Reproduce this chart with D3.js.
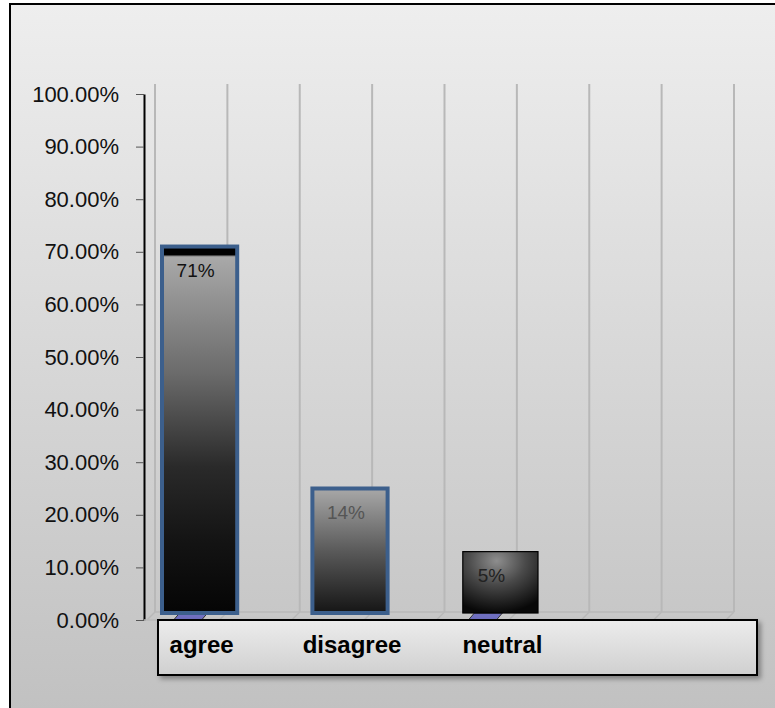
<!DOCTYPE html>
<html lang="en">
<head>
    <meta charset="UTF-8">
    <title>Agree / disagree chart</title>
    <script src="https://d3js.org/d3.v7.min.js"></script>
    <style>
        body { margin: 0; background: #fff; }
        text { font-family: "Liberation Sans", Arial, sans-serif; }
    </style>
</head>
<body>
<script>
    // values
    const categories = ["agree", "disagree", "neutral"];
    const values = [0.71, 0.25, 0.13];          // bar heights against the axis
    const valueLabels = ["71%", "14%", "5%"];   // labels printed on the bars
    const yTicks = [0, 0.1, 0.2, 0.3, 0.4, 0.5, 0.6, 0.7, 0.8, 0.9, 1];

    const W = 775, H = 708;

    const svg = d3.select("body").append("svg")
        .attr("width", W)
        .attr("height", H);

    const defs = svg.append("defs");

    // background of the whole chart
    const bg = defs.append("linearGradient").attr("id", "bg")
        .attr("x1", 0).attr("y1", 0).attr("x2", 0).attr("y2", 1);
    bg.append("stop").attr("offset", "0%").attr("stop-color", "#eeeeee");
    bg.append("stop").attr("offset", "100%").attr("stop-color", "#bfbfbf");

    // category axis box
    const box = defs.append("linearGradient").attr("id", "box")
        .attr("x1", 0).attr("y1", 0).attr("x2", 0).attr("y2", 1);
    box.append("stop").attr("offset", "0%").attr("stop-color", "#ececec");
    box.append("stop").attr("offset", "100%").attr("stop-color", "#d0d0d0");

    // bar fills
    const g0 = defs.append("linearGradient").attr("id", "bar0")
        .attr("x1", 0).attr("y1", 0).attr("x2", 0).attr("y2", 1);
    [["0%", "#000"], ["2.2%", "#000"], ["2.8%", "#a9a9a9"], ["35%", "#6a6a6a"],
        ["60%", "#2a2a2a"], ["80%", "#141414"], ["100%", "#050505"]]
        .forEach(s => g0.append("stop").attr("offset", s[0]).attr("stop-color", s[1]));

    const g1 = defs.append("linearGradient").attr("id", "bar1")
        .attr("x1", 0).attr("y1", 0).attr("x2", 0).attr("y2", 1);
    [["0%", "#a8a8a8"], ["50%", "#5a5a5a"], ["100%", "#151515"]]
        .forEach(s => g1.append("stop").attr("offset", s[0]).attr("stop-color", s[1]));

    const g2 = defs.append("radialGradient").attr("id", "bar2")
        .attr("cx", "45%").attr("cy", "15%").attr("r", "85%");
    [["0%", "#8e8e8e"], ["45%", "#4a4a4a"], ["100%", "#080808"]]
        .forEach(s => g2.append("stop").attr("offset", s[0]).attr("stop-color", s[1]));

    const shadow = defs.append("filter").attr("id", "shadow")
        .attr("x", "-5%").attr("y", "-10%").attr("width", "115%").attr("height", "140%");
    shadow.append("feDropShadow").attr("dx", 3).attr("dy", 3)
        .attr("stdDeviation", 2.5).attr("flood-color", "#000").attr("flood-opacity", 0.35);

    // chart frame
    svg.append("rect")
        .attr("x", 10).attr("y", 4)
        .attr("width", 800).attr("height", 740)
        .attr("fill", "url(#bg)")
        .attr("stroke", "#000")
        .attr("stroke-width", 2);

    // scales
    const y = d3.scaleLinear().domain([0, 1]).range([620, 94]);
    const x = d3.scaleBand().domain(categories)
        .range([162, 538])
        .paddingInner(0.5)
        .paddingOuter(0);

    // back wall lines (3d style)
    const wall = d3.scaleLinear().domain([0, 8]).range([155, 734]);
    const wallIdx = d3.range(9);
    const floorBack = y(0) - 8, floorFront = y(0), depth = 8;

    svg.append("g").selectAll("line")
        .data(wallIdx)
        .enter()
        .append("line")
        .attr("x1", d => wall(d)).attr("x2", d => wall(d))
        .attr("y1", 84).attr("y2", floorBack)
        .attr("stroke", "#b8b8b8")
        .attr("stroke-width", 2);

    // floor
    svg.append("g").selectAll("line")
        .data(wallIdx)
        .enter()
        .append("line")
        .attr("x1", d => wall(d)).attr("y1", floorBack)
        .attr("x2", d => wall(d) - depth).attr("y2", floorFront)
        .attr("stroke", "#b8b8b8")
        .attr("stroke-width", 1.5);

    svg.append("line")
        .attr("x1", wall(0)).attr("x2", wall(8))
        .attr("y1", floorBack).attr("y2", floorBack)
        .attr("stroke", "#b8b8b8")
        .attr("stroke-width", 1.5);

    // y axis
    const yAxis = d3.axisLeft(y)
        .tickValues(yTicks)
        .tickFormat(d3.format(".2%"))
        .tickSizeInner(8)
        .tickSizeOuter(0)
        .tickPadding(17);

    const ax = svg.append("g")
        .attr("transform", "translate(144,0)")
        .call(yAxis);
    ax.select(".domain").attr("stroke", "#000").attr("stroke-width", 2);
    ax.selectAll(".tick line").attr("stroke", "#555").attr("stroke-width", 1);
    ax.selectAll(".tick text")
        .attr("font-size", 22)
        .attr("font-family", "'Liberation Sans', Arial, sans-serif")
        .attr("fill", "#111");

    svg.append("line")
        .attr("x1", 144).attr("x2", wall(8) - depth)
        .attr("y1", floorFront).attr("y2", floorFront)
        .attr("stroke", "#b8b8b8")
        .attr("stroke-width", 1.5);

    // little footprints of the hidden series
    [0, 2].forEach(i => {
        const c = x(categories[i]) + x.bandwidth() / 2 - (i === 0 ? 10 : 16);
        svg.append("path")
            .attr("d", `M${c - 16},${floorFront} L${c - 10},${floorBack + 1} L${c + 18},${floorBack + 1} L${c + 12},${floorFront} Z`)
            .attr("fill", "#6f6fc0")
            .attr("stroke", "#333")
            .attr("stroke-width", 1);
    });

    // bars
    const barStroke = ["#3c5f8c", "#3c5f8c", "#000"];
    const barStrokeW = [4, 4, 1.2];
    svg.append("g").selectAll("rect")
        .data(values)
        .enter()
        .append("rect")
        .attr("x", (d, i) => x(categories[i]))
        .attr("y", d => y(d))
        .attr("width", x.bandwidth())
        .attr("height", d => floorBack + 1 - y(d))
        .attr("fill", (d, i) => "url(#bar" + i + ")")
        .attr("stroke", (d, i) => barStroke[i])
        .attr("stroke-width", (d, i) => barStrokeW[i]);

    // value labels
    const labelColor = ["#111", "#555", "#222"];
    svg.append("g").selectAll("text")
        .data(values)
        .enter()
        .append("text")
        .attr("x", (d, i) => x(categories[i]) + x.bandwidth() / 2 - (i === 2 ? 9 : 4))
        .attr("y", d => y(d) + 30)
        .attr("text-anchor", "middle")
        .attr("font-size", 19)
        .attr("fill", (d, i) => labelColor[i])
        .text((d, i) => valueLabels[i]);

    // category axis box
    svg.append("rect")
        .attr("x", 158).attr("y", 620)
        .attr("width", 599).attr("height", 55)
        .attr("fill", "url(#box)")
        .attr("stroke", "#000")
        .attr("stroke-width", 2)
        .attr("filter", "url(#shadow)");

    svg.append("g").selectAll("text")
        .data(categories)
        .enter()
        .append("text")
        .attr("x", d => x(d) + x.bandwidth() / 2 + 2)
        .attr("y", 653)
        .attr("text-anchor", "middle")
        .attr("font-size", 24)
        .attr("font-weight", "bold")
        .attr("fill", "#000")
        .text(d => d);
</script>
</body>
</html>
